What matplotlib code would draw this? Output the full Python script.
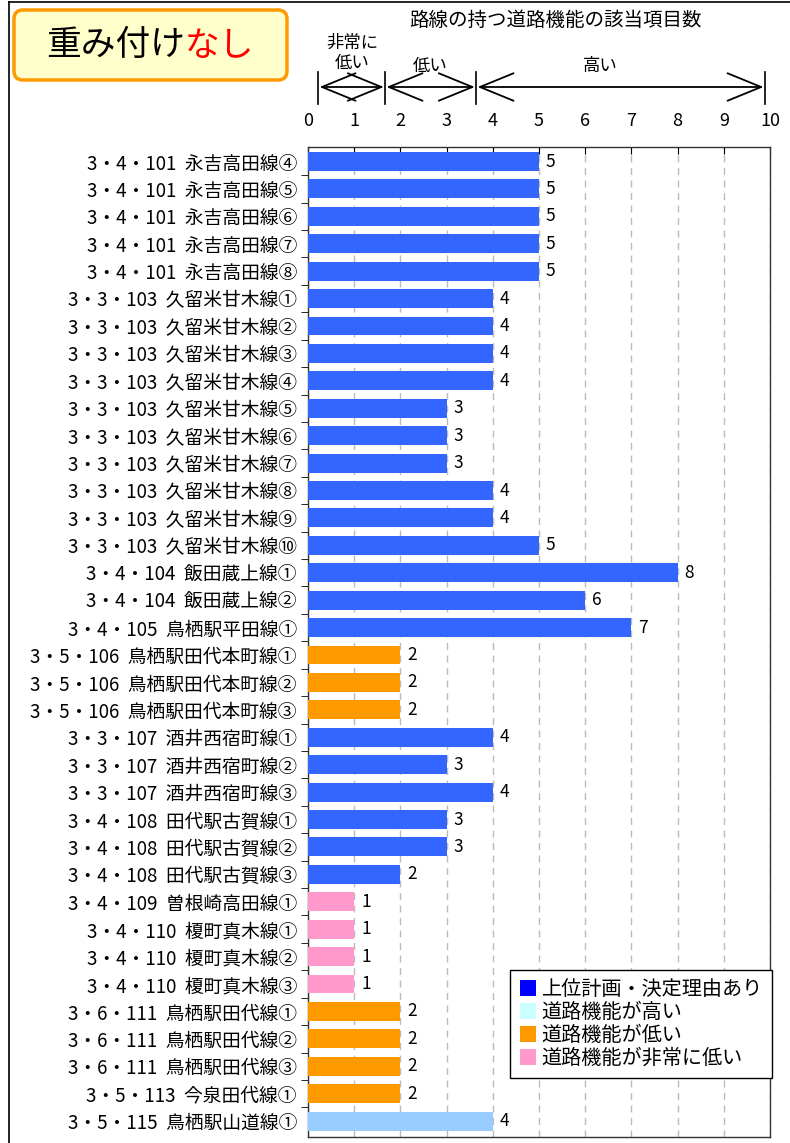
import matplotlib
matplotlib.use("Agg")
import matplotlib.pyplot as plt
import matplotlib.transforms as mtransforms
from matplotlib.patches import FancyBboxPatch, Patch
from matplotlib.lines import Line2D

plt.rcParams['font.family'] = ['Noto Sans CJK JP', 'DejaVu Sans']

# route names and number of matching road-function items
routes = [
    "3・4・101  永吉高田線④", "3・4・101  永吉高田線⑤", "3・4・101  永吉高田線⑥",
    "3・4・101  永吉高田線⑦", "3・4・101  永吉高田線⑧",
    "3・3・103  久留米甘木線①", "3・3・103  久留米甘木線②", "3・3・103  久留米甘木線③",
    "3・3・103  久留米甘木線④", "3・3・103  久留米甘木線⑤", "3・3・103  久留米甘木線⑥",
    "3・3・103  久留米甘木線⑦", "3・3・103  久留米甘木線⑧", "3・3・103  久留米甘木線⑨",
    "3・3・103  久留米甘木線⑩",
    "3・4・104  飯田蔵上線①", "3・4・104  飯田蔵上線②",
    "3・4・105  鳥栖駅平田線①",
    "3・5・106  鳥栖駅田代本町線①", "3・5・106  鳥栖駅田代本町線②", "3・5・106  鳥栖駅田代本町線③",
    "3・3・107  酒井西宿町線①", "3・3・107  酒井西宿町線②", "3・3・107  酒井西宿町線③",
    "3・4・108  田代駅古賀線①", "3・4・108  田代駅古賀線②", "3・4・108  田代駅古賀線③",
    "3・4・109  曽根崎高田線①",
    "3・4・110  榎町真木線①", "3・4・110  榎町真木線②", "3・4・110  榎町真木線③",
    "3・6・111  鳥栖駅田代線①", "3・6・111  鳥栖駅田代線②", "3・6・111  鳥栖駅田代線③",
    "3・5・113  今泉田代線①",
    "3・5・115  鳥栖駅山道線①",
]
counts = [5, 5, 5, 5, 5,
          4, 4, 4, 4, 3, 3, 3, 4, 4, 5,
          8, 6,
          7,
          2, 2, 2,
          4, 3, 4,
          3, 3, 2,
          1,
          1, 1, 1,
          2, 2, 2,
          2,
          4]
# category of each route: plan / low / very low / high
groups = (["plan"] * 18 + ["low"] * 3 + ["plan"] * 6 + ["verylow"] * 4
          + ["low"] * 4 + ["high"])

bar_colors = {"plan": "#3366FF", "high": "#99CCFF", "low": "#FF9900", "verylow": "#FF99CC"}
legend_labels = ["上位計画・決定理由あり", "道路機能が高い", "道路機能が低い", "道路機能が非常に低い"]
legend_colors = ["#0000FF", "#CCFFFF", "#FF9900", "#FF99CC"]

W, H = 790, 1143
fig = plt.figure(figsize=(W / 100, H / 100), dpi=100)
ax = fig.add_axes([308 / W, 1 - 1137 / H, (770 - 308) / W, (1137 - 147) / H])

ypos = list(range(len(routes)))
ax.barh(ypos, counts, height=0.69, color=[bar_colors[g] for g in groups], zorder=3)
for y, v in zip(ypos, counts):
    ax.text(v + 0.15, y, str(v), va="center", ha="left", fontsize=12.5, zorder=4)

ax.set_xlim(0, 10)
ax.set_ylim(35.58, -0.53)
ax.set_xticks(range(11))
ax.xaxis.tick_top()
ax.tick_params(axis="x", direction="in", length=5, pad=12, labelsize=13, top=True, bottom=False)
ax.set_yticks(ypos)
ax.set_yticklabels(routes, fontsize=13.5)
ax.tick_params(axis="y", which="major", length=0, pad=8)
ax.set_yticks([i + 0.5 for i in range(len(routes) - 1)], minor=True)
ax.tick_params(axis="y", which="minor", direction="out", length=5, color="black")
ax.grid(axis="x", color="#BBBBBB", linestyle=(0, (5, 4)), linewidth=1, zorder=0)
for s in ax.spines.values():
    s.set_color("#333333")
    s.set_linewidth(1)

# range arrows above the axis
tr = mtransforms.blended_transform_factory(ax.transData, fig.transFigure)
y_arrow = 1 - 87 / H
bounds = [0.22, 1.67, 3.64, 9.89]
for b in bounds:
    fig.add_artist(Line2D([b, b], [1 - 72 / H, 1 - 104 / H], transform=tr, color="black", lw=1.2))
for a, b in zip(bounds[:-1], bounds[1:]):
    ax.annotate("", xy=(a, y_arrow), xytext=(b, y_arrow), xycoords=tr, textcoords=tr,
                arrowprops=dict(arrowstyle="<->,head_length=1.1,head_width=0.45",
                                color="black", lw=1.3, shrinkA=1, shrinkB=1,
                                mutation_scale=22),
                annotation_clip=False)
fig.text(0.95, 1 - 53 / H, "非常に\n低い", transform=tr, ha="center", va="center",
         fontsize=12.5, linespacing=1.15)
fig.text(2.64, 1 - 66 / H, "低い", transform=tr, ha="center", va="center", fontsize=12.5)
fig.text(6.32, 1 - 66 / H, "高い", transform=tr, ha="center", va="center", fontsize=12.5)
fig.text(5.35, 1 - 20 / H, "路線の持つ道路機能の該当項目数", transform=tr, ha="center",
         va="center", fontsize=14)

# title box
px = mtransforms.IdentityTransform()
box = FancyBboxPatch((14, H - 80), 273, 70, boxstyle="round,pad=0,rounding_size=9",
                     fc="#FFFFCC", ec="#FF9900", lw=2.5, transform=px)
fig.add_artist(box)
fig.text(185 / W, 1 - 46 / H, "重み付け", ha="right", va="center", fontsize=25, color="black")
fig.text(185 / W, 1 - 46 / H, "なし", ha="left", va="center", fontsize=25, color="#FF0000")

# outer frame (top and left)
fig.add_artist(Line2D([9 / W, 1], [1 - 2 / H, 1 - 2 / H], transform=fig.transFigure, color="black", lw=1.2))
fig.add_artist(Line2D([9 / W, 9 / W], [0, 1 - 2 / H], transform=fig.transFigure, color="black", lw=1.2))

handles = [Patch(fc=c, ec="none") for c in legend_colors]
leg = ax.legend(handles, legend_labels, loc="lower right",
                bbox_to_anchor=(772 / W, 1 - 1078 / H), bbox_transform=fig.transFigure,
                fontsize=14.5, frameon=True, fancybox=False, framealpha=1,
                handlelength=0.8, handleheight=0.8, handletextpad=0.3,
                labelspacing=0.1, borderpad=0.45, borderaxespad=0)
leg.get_frame().set_edgecolor("black")
leg.get_frame().set_linewidth(1)
leg.set_zorder(5)

fig.savefig("out.png", dpi=100)
